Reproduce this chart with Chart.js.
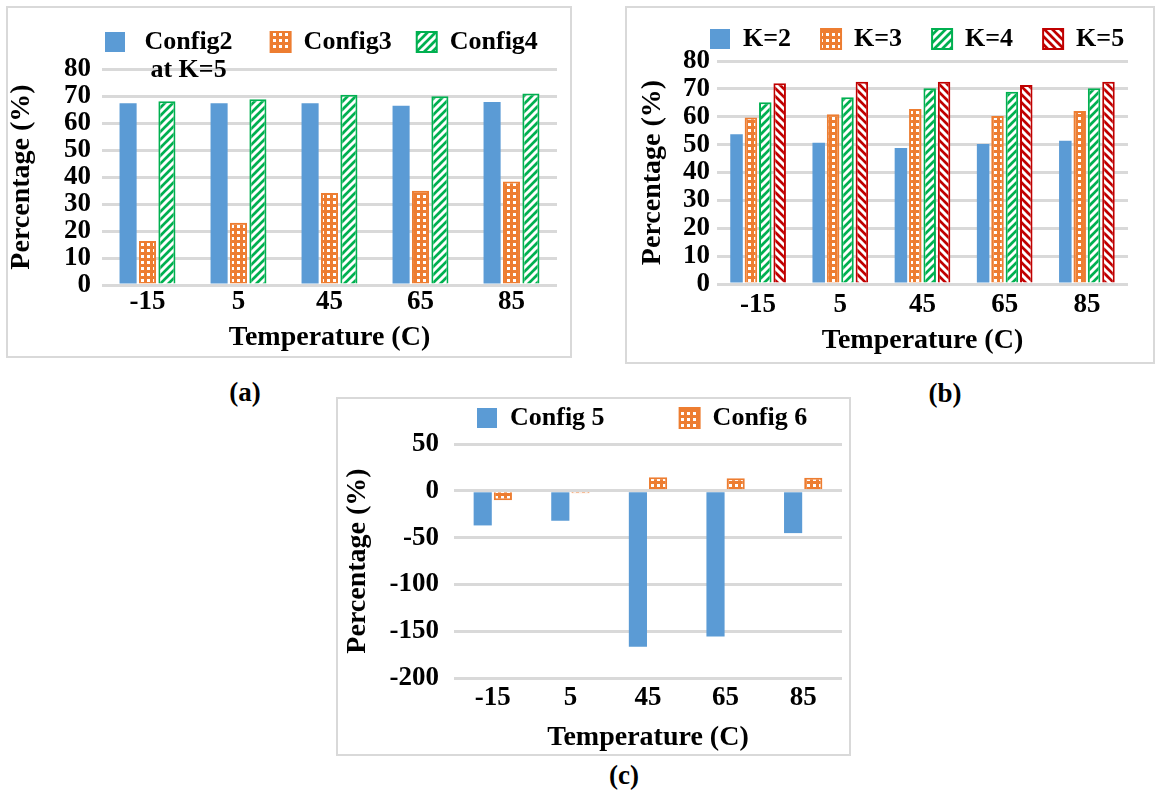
<!DOCTYPE html>
<html>
<head>
<meta charset="utf-8">
<script src="https://cdn.jsdelivr.net/npm/chart.js@4.4.0/dist/chart.umd.min.js"></script>
<style>
body { margin:0; background:#fff; width:1156px; height:790px; position:relative; overflow:hidden; font-family:"Liberation Serif", serif; }
.panel { position:absolute; border:2px solid #d9d9d9; box-sizing:border-box; }
.panel canvas { display:block; }
.cap { position:absolute; font-weight:bold; font-size:27px; line-height:1; transform:translate(-50%,-50%); color:#000; }
</style>
</head>
<body>
<div class="panel" style="left:6px;top:6px;width:566px;height:352px"><canvas id="chartA" width="562" height="348"></canvas></div>
<div class="panel" style="left:625px;top:6px;width:530px;height:358px"><canvas id="chartB" width="526" height="354"></canvas></div>
<div class="panel" style="left:336px;top:397px;width:515px;height:359px"><canvas id="chartC" width="511" height="355"></canvas></div>
<div class="cap" style="left:245px;top:392px">(a)</div>
<div class="cap" style="left:945px;top:393px">(b)</div>
<div class="cap" style="left:624px;top:775px">(c)</div>
<script>
// data
const temps = ['-15', '5', '45', '65', '85'];

const seriesA = ['Config2', 'Config3', 'Config4'];
const noteA = 'at K=5';
const config2 = [67.3, 67.3, 67.3, 66.4, 67.8];
const config3 = [16.3, 23.1, 34.1, 34.9, 38.3];
const config4 = [68.1, 68.8, 70.5, 69.9, 70.9];

const seriesB = ['K=2', 'K=3', 'K=4', 'K=5'];
const k2 = [53.7, 50.7, 48.8, 50.2, 51.4];
const k3 = [59.7, 60.9, 62.8, 60.3, 62.1];
const k4 = [65.2, 67.0, 70.2, 69.0, 70.2];
const k5 = [72.0, 72.6, 72.6, 71.4, 72.6];

const seriesC = ['Config 5', 'Config 6'];
const config5 = [-37, -32, -166.6, -155.7, -45.2];
const config6 = [-10, -2.5, 14.5, 13.3, 14];

const yTitle = 'Percentage (%)';
const xTitle = 'Temperature (C)';

const BLUE = '#5B9BD5', ORANGE = '#ED7D31', GREEN = '#00B050', RED = '#C00000';
const legendFont = { family: 'Liberation Serif', size: 26, weight: 'bold', lineHeight: 1.2 };
const tickFont = { family: 'Liberation Serif', size: 27, weight: 'bold', lineHeight: 1.0 };
const titleFont = { family: 'Liberation Serif', size: 28, weight: 'bold', lineHeight: 1.0 };

function makePattern(size, bg, draw) {
  const c = document.createElement('canvas');
  c.width = size; c.height = size;
  const g = c.getContext('2d');
  g.fillStyle = bg;
  g.fillRect(0, 0, size, size);
  g.fillStyle = '#fff';
  g.strokeStyle = '#fff';
  draw(g);
  return g.createPattern(c, 'repeat');
}
const dots = makePattern(6, ORANGE, g => g.fillRect(1, 1, 3, 3));
const upDiag = makePattern(8, GREEN, g => {
  g.lineWidth = 3;
  g.beginPath();
  g.moveTo(0, 8); g.lineTo(8, 0);
  g.moveTo(-2, 2); g.lineTo(2, -2);
  g.moveTo(6, 10); g.lineTo(10, 6);
  g.stroke();
});
const downDiag = makePattern(8, RED, g => {
  g.lineWidth = 3;
  g.beginPath();
  g.moveTo(0, 0); g.lineTo(8, 8);
  g.moveTo(6, -2); g.lineTo(10, 2);
  g.moveTo(-2, 6); g.lineTo(2, 10);
  g.stroke();
});

function bar(label, data, bg, border, bw) {
  return { label: label, data: data, backgroundColor: bg, borderColor: border, borderWidth: bw };
}

// puts the legend where the picture has it and lets the plot start right under it
const placeLegend = {
  id: 'placeLegend',
  afterInit(chart, args, opts) {
    const lg = chart.legend;
    const fit = lg.fit;
    lg.fit = function () { fit.call(this); this.height = opts.height; };
  },
  afterLayout(chart, args, opts) {
    const lg = chart.legend;
    const pad = lg.options.labels.padding;
    lg.left = opts.x - pad;
    lg.right = chart.width + 500;
    lg.top = opts.y - pad;
  },
  afterDraw(chart, args, opts) {
    if (!opts.note) return;
    const lg = chart.legend;
    const hb = lg.legendHitBoxes[0];
    const ctx = chart.ctx;
    ctx.save();
    ctx.font = 'bold 26px "Liberation Serif"';
    ctx.fillStyle = '#000';
    ctx.textAlign = 'center';
    ctx.textBaseline = 'middle';
    const lead = ctx.measureText(' ').width;
    const w = ctx.measureText(seriesA[0]).width;
    ctx.fillText(opts.note, hb.left + 20 + 13 + lead + w / 2, opts.noteY);
    ctx.restore();
  }
};

function makeChart(id, datasets, o) {
  return new Chart(document.getElementById(id), {
    type: 'bar',
    data: { labels: temps, datasets: datasets },
    plugins: [placeLegend],
    options: {
      responsive: false,
      animation: false,
      devicePixelRatio: 1,
      layout: { padding: { left: 0, right: o.padRight, top: 0, bottom: 0 } },
      datasets: { bar: { categoryPercentage: o.cat, barPercentage: o.bar } },
      plugins: {
        tooltip: { enabled: false },
        legend: {
          align: 'start',
          labels: {
            boxWidth: 20, boxHeight: 20, padding: o.legendPad, font: legendFont, color: '#000',
            generateLabels: chart => Chart.defaults.plugins.legend.labels.generateLabels(chart).map((item, i) => {
              if (i === 0 && o.note) item.text = ' ' + item.text + '  ';
              return item;
            })
          }
        },
        placeLegend: { x: o.legendX, y: o.legendY, height: o.legendH, note: o.note, noteY: o.noteY }
      },
      scales: {
        x: {
          grid: { display: false },
          border: { display: false },
          ticks: { font: tickFont, color: '#000', padding: o.xTickPad },
          title: { display: true, text: xTitle, font: titleFont, color: '#000', padding: { top: 0, bottom: o.xTitlePad } },
          afterFit: s => { s.height = o.xH; }
        },
        y: {
          min: o.min, max: o.max,
          ticks: { stepSize: o.step, autoSkip: false, font: tickFont, color: '#000', padding: o.yTickPad },
          grid: { color: '#d9d9d9', lineWidth: 3, drawTicks: false },
          border: { display: false },
          title: { display: true, text: yTitle, font: titleFont, color: '#000', padding: { top: o.yTitlePad, bottom: 0 } },
          afterFit: s => { s.width = o.yW; }
        }
      }
    }
  });
}

makeChart('chartA', [
  bar(seriesA[0], config2, BLUE, BLUE, 0),
  bar(seriesA[1], config3, dots, ORANGE, 2),
  bar(seriesA[2], config4, upDiag, GREEN, 2)
], { min: 0, max: 80, step: 10, yW: 94, padRight: 13, legendH: 61, xH: 71, cat: 0.64, bar: 0.88,
     legendX: 97, legendY: 21, legendPad: 25, note: noteA, noteY: 62,
     yTickPad: 11, yTitlePad: 0, xTickPad: -4, xTitlePad: 4 });

makeChart('chartB', [
  bar(seriesB[0], k2, BLUE, BLUE, 0),
  bar(seriesB[1], k3, dots, ORANGE, 2),
  bar(seriesB[2], k4, upDiag, GREEN, 2),
  bar(seriesB[3], k5, downDiag, RED, 2)
], { min: 0, max: 80, step: 10, yW: 90, padRight: 25, legendH: 53, xH: 78, cat: 0.7, bar: 0.87,
     legendX: 83, legendY: 18, legendPad: 30,
     yTickPad: 7, yTitlePad: 12, xTickPad: 0, xTitlePad: 7 });

makeChart('chartC', [
  bar(seriesC[0], config5, BLUE, BLUE, 0),
  bar(seriesC[1], config6, dots, ORANGE, 2)
], { min: -200, max: 50, step: 50, yW: 116, padRight: 7, legendH: 45, xH: 76, cat: 0.52, bar: 0.9,
     legendX: 139, legendY: 6, legendPad: 75,
     yTickPad: 15, yTitlePad: 6, xTickPad: -1, xTitlePad: 2 });
</script>
</body>
</html>
